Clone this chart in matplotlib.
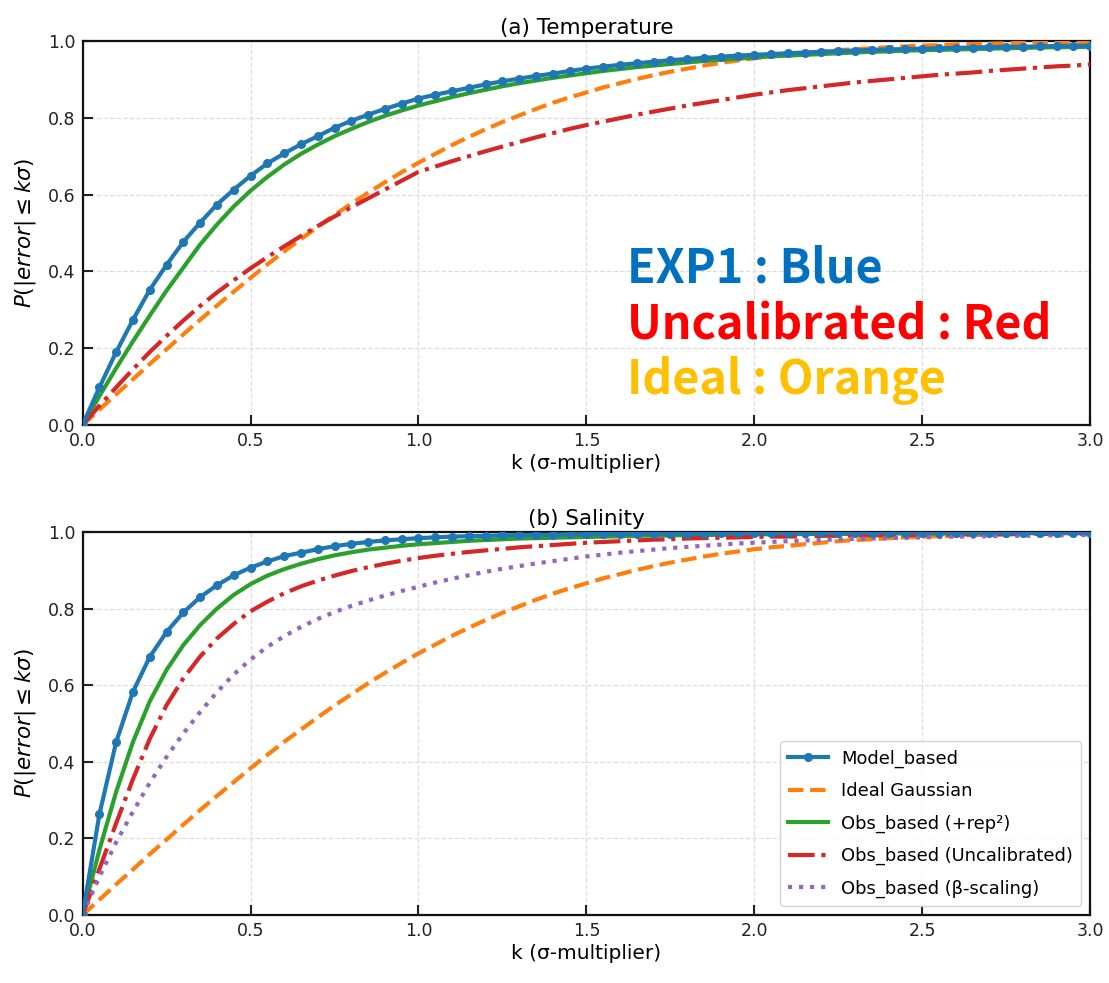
import numpy as np
import matplotlib
matplotlib.use("Agg")
import matplotlib.pyplot as plt

k = np.round(np.arange(0, 3.0001, 0.05), 2)

ideal_gauss = [0.0, 0.040, 0.080, 0.119, 0.159, 0.197, 0.236, 0.274, 0.311, 0.347,
               0.383, 0.418, 0.452, 0.484, 0.516, 0.547, 0.576, 0.605, 0.632, 0.658,
               0.683, 0.706, 0.729, 0.750, 0.770, 0.789, 0.806, 0.823, 0.839, 0.853,
               0.866, 0.879, 0.890, 0.901, 0.911, 0.920, 0.928, 0.936, 0.943, 0.949,
               0.955, 0.960, 0.964, 0.968, 0.972, 0.976, 0.979, 0.981, 0.984, 0.986,
               0.988, 0.989, 0.991, 0.992, 0.993, 0.994, 0.995, 0.996, 0.996, 0.997, 0.997]

# (a) Temperature
temp_model = [0.0, 0.098, 0.190, 0.274, 0.352, 0.417, 0.477, 0.527, 0.574, 0.613,
              0.649, 0.681, 0.707, 0.731, 0.752, 0.774, 0.792, 0.808, 0.823, 0.837,
              0.850, 0.860, 0.869, 0.878, 0.887, 0.895, 0.902, 0.909, 0.915, 0.922,
              0.928, 0.933, 0.938, 0.942, 0.946, 0.950, 0.953, 0.956, 0.959, 0.962,
              0.964, 0.966, 0.968, 0.970, 0.972, 0.974, 0.975, 0.977, 0.978, 0.979,
              0.980, 0.981, 0.982, 0.983, 0.984, 0.985, 0.985, 0.986, 0.987, 0.987, 0.988]
temp_obs_rep = [0.0, 0.075, 0.148, 0.218, 0.285, 0.350, 0.410, 0.470, 0.522, 0.569,
                0.610, 0.646, 0.678, 0.706, 0.730, 0.752, 0.771, 0.789, 0.805, 0.819,
                0.832, 0.843, 0.854, 0.864, 0.873, 0.882, 0.890, 0.897, 0.904, 0.910,
                0.916, 0.922, 0.927, 0.932, 0.936, 0.940, 0.944, 0.948, 0.951, 0.954,
                0.957, 0.960, 0.962, 0.964, 0.966, 0.968, 0.970, 0.972, 0.973, 0.975,
                0.976, 0.977, 0.978, 0.979, 0.980, 0.981, 0.982, 0.983, 0.984, 0.984, 0.985]
temp_obs_uncal = [0.0, 0.050, 0.098, 0.145, 0.190, 0.232, 0.272, 0.310, 0.345, 0.377,
                  0.408, 0.437, 0.465, 0.492, 0.518, 0.543, 0.567, 0.590, 0.613, 0.636,
                  0.659, 0.673, 0.687, 0.700, 0.713, 0.725, 0.737, 0.749, 0.760, 0.771,
                  0.781, 0.790, 0.799, 0.808, 0.816, 0.824, 0.832, 0.839, 0.846, 0.853,
                  0.860, 0.866, 0.872, 0.877, 0.882, 0.887, 0.892, 0.896, 0.900, 0.904,
                  0.908, 0.912, 0.915, 0.918, 0.922, 0.925, 0.928, 0.931, 0.934, 0.936, 0.939]

# (b) Salinity
sal_model = [0.0, 0.263, 0.452, 0.583, 0.674, 0.739, 0.790, 0.830, 0.861, 0.887,
             0.907, 0.923, 0.937, 0.946, 0.955, 0.963, 0.969, 0.974, 0.978, 0.981,
             0.984, 0.986, 0.988, 0.989, 0.990, 0.991, 0.992, 0.993, 0.993, 0.994,
             0.994, 0.995, 0.995, 0.995, 0.996, 0.996, 0.996, 0.996, 0.997, 0.997,
             0.997, 0.997, 0.997, 0.997, 0.997, 0.998, 0.998, 0.998, 0.998, 0.998,
             0.998, 0.998, 0.998, 0.998, 0.998, 0.998, 0.998, 0.998, 0.998, 0.998, 0.998]
sal_obs_rep = [0.0, 0.170, 0.322, 0.452, 0.558, 0.640, 0.705, 0.757, 0.800, 0.836,
               0.864, 0.886, 0.903, 0.917, 0.929, 0.939, 0.947, 0.954, 0.959, 0.964,
               0.968, 0.971, 0.974, 0.977, 0.979, 0.981, 0.983, 0.984, 0.985, 0.986,
               0.987, 0.988, 0.989, 0.990, 0.991, 0.991, 0.992, 0.992, 0.993, 0.993,
               0.994, 0.994, 0.994, 0.995, 0.995, 0.995, 0.995, 0.996, 0.996, 0.996,
               0.996, 0.996, 0.997, 0.997, 0.997, 0.997, 0.997, 0.997, 0.997, 0.998, 0.998]
sal_obs_uncal = [0.0, 0.120, 0.240, 0.355, 0.460, 0.548, 0.618, 0.675, 0.722, 0.760,
                 0.793, 0.818, 0.840, 0.858, 0.873, 0.886, 0.898, 0.908, 0.917, 0.925,
                 0.932, 0.938, 0.943, 0.948, 0.952, 0.956, 0.960, 0.963, 0.966, 0.969,
                 0.972, 0.974, 0.976, 0.978, 0.980, 0.981, 0.983, 0.984, 0.985, 0.986,
                 0.987, 0.988, 0.988, 0.989, 0.990, 0.990, 0.991, 0.991, 0.992, 0.992,
                 0.993, 0.993, 0.993, 0.994, 0.994, 0.994, 0.995, 0.995, 0.995, 0.995, 0.996]
sal_obs_beta = [0.0, 0.100, 0.190, 0.270, 0.345, 0.413, 0.474, 0.530, 0.582, 0.628,
                0.667, 0.700, 0.728, 0.752, 0.773, 0.791, 0.807, 0.821, 0.834, 0.846,
                0.857, 0.868, 0.878, 0.887, 0.896, 0.904, 0.911, 0.918, 0.924, 0.930,
                0.936, 0.941, 0.946, 0.950, 0.954, 0.958, 0.961, 0.964, 0.967, 0.970,
                0.972, 0.974, 0.976, 0.978, 0.979, 0.981, 0.982, 0.983, 0.984, 0.985,
                0.986, 0.987, 0.988, 0.988, 0.989, 0.990, 0.990, 0.991, 0.991, 0.992, 0.992]

labels = ["Model_based", "Ideal Gaussian", "Obs_based (+rep²)",
          "Obs_based (Uncalibrated)", "Obs_based (β-scaling)"]
titles = ["(a) Temperature", "(b) Salinity"]
notes = ["EXP1 : Blue", "Uncalibrated : Red", "Ideal : Orange"]

C_BLUE, C_ORANGE, C_GREEN, C_RED, C_PURPLE = "#1f77b4", "#ff7f0e", "#2ca02c", "#d62728", "#9467bd"

fig = plt.figure(figsize=(11.09, 9.83), dpi=100)
ax1 = fig.add_axes([0.0745, 0.5677, 0.9085, 0.3906])
ax2 = fig.add_axes([0.0745, 0.0692, 0.9085, 0.3896])

LW = 3.0

def style(ax, title):
    ax.set_xlim(0, 3.0)
    ax.set_ylim(0, 1.0)
    ax.set_xticks([0, 0.5, 1.0, 1.5, 2.0, 2.5, 3.0])
    ax.set_yticks([0, 0.2, 0.4, 0.6, 0.8, 1.0])
    ax.xaxis.set_major_formatter(matplotlib.ticker.FormatStrFormatter("%.1f"))
    ax.yaxis.set_major_formatter(matplotlib.ticker.FormatStrFormatter("%.1f"))
    ax.tick_params(direction="in", length=7, width=1.5, labelsize=12.5, colors="#222222")
    ax.tick_params(axis="x", pad=5)
    ax.tick_params(axis="y", pad=5)
    ax.grid(True, linestyle="--", color="#dddddd", linewidth=0.9)
    ax.set_axisbelow(True)
    for s in ax.spines.values():
        s.set_linewidth(1.6)
        s.set_color("#111111")
    ax.set_title(title, fontsize=15.5, pad=5)
    ax.set_xlabel("k (σ-multiplier)", fontsize=14.5, labelpad=3)
    ax.set_ylabel(r"$P(|error| \leq k\sigma)$", fontsize=15.5, labelpad=7)

# Top panel
ax1.plot(k, temp_model, color=C_BLUE, lw=LW, marker="o", ms=5.5, label=labels[0], zorder=5)
ax1.plot(k, ideal_gauss, color=C_ORANGE, lw=LW, ls="--", label=labels[1], zorder=4)
ax1.plot(k, temp_obs_rep, color=C_GREEN, lw=LW, label=labels[2], zorder=4)
ax1.plot(k, temp_obs_uncal, color=C_RED, lw=LW, ls="-.", label=labels[3], zorder=4)
style(ax1, titles[0])

note_font = ["Noto Sans CJK KR", "DejaVu Sans"]
ax1.text(1.62, 0.372, notes[0], color="#0070C0", fontsize=33.5, fontweight="bold",
         family=note_font, va="baseline", zorder=6)
ax1.text(1.62, 0.223, notes[1], color="#FF0000", fontsize=33.5, fontweight="bold",
         family=note_font, va="baseline", zorder=6)
ax1.text(1.62, 0.080, notes[2], color="#FFC000", fontsize=33.5, fontweight="bold",
         family=note_font, va="baseline", zorder=6)

# Bottom panel
ax2.plot(k, sal_model, color=C_BLUE, lw=LW, marker="o", ms=5.5, label=labels[0], zorder=5)
ax2.plot(k, ideal_gauss, color=C_ORANGE, lw=LW, ls="--", label=labels[1], zorder=4)
ax2.plot(k, sal_obs_rep, color=C_GREEN, lw=LW, label=labels[2], zorder=4)
ax2.plot(k, sal_obs_uncal, color=C_RED, lw=LW, ls="-.", label=labels[3], zorder=4)
ax2.plot(k, sal_obs_beta, color=C_PURPLE, lw=LW, ls=":", label=labels[4], zorder=4)
style(ax2, titles[1])
ax2.legend(loc="lower right", fontsize=12.9, framealpha=0.85, borderpad=0.45,
           handlelength=2.2, handletextpad=0.75, labelspacing=0.8, borderaxespad=0.5)

fig.savefig("out.png", dpi=100)
